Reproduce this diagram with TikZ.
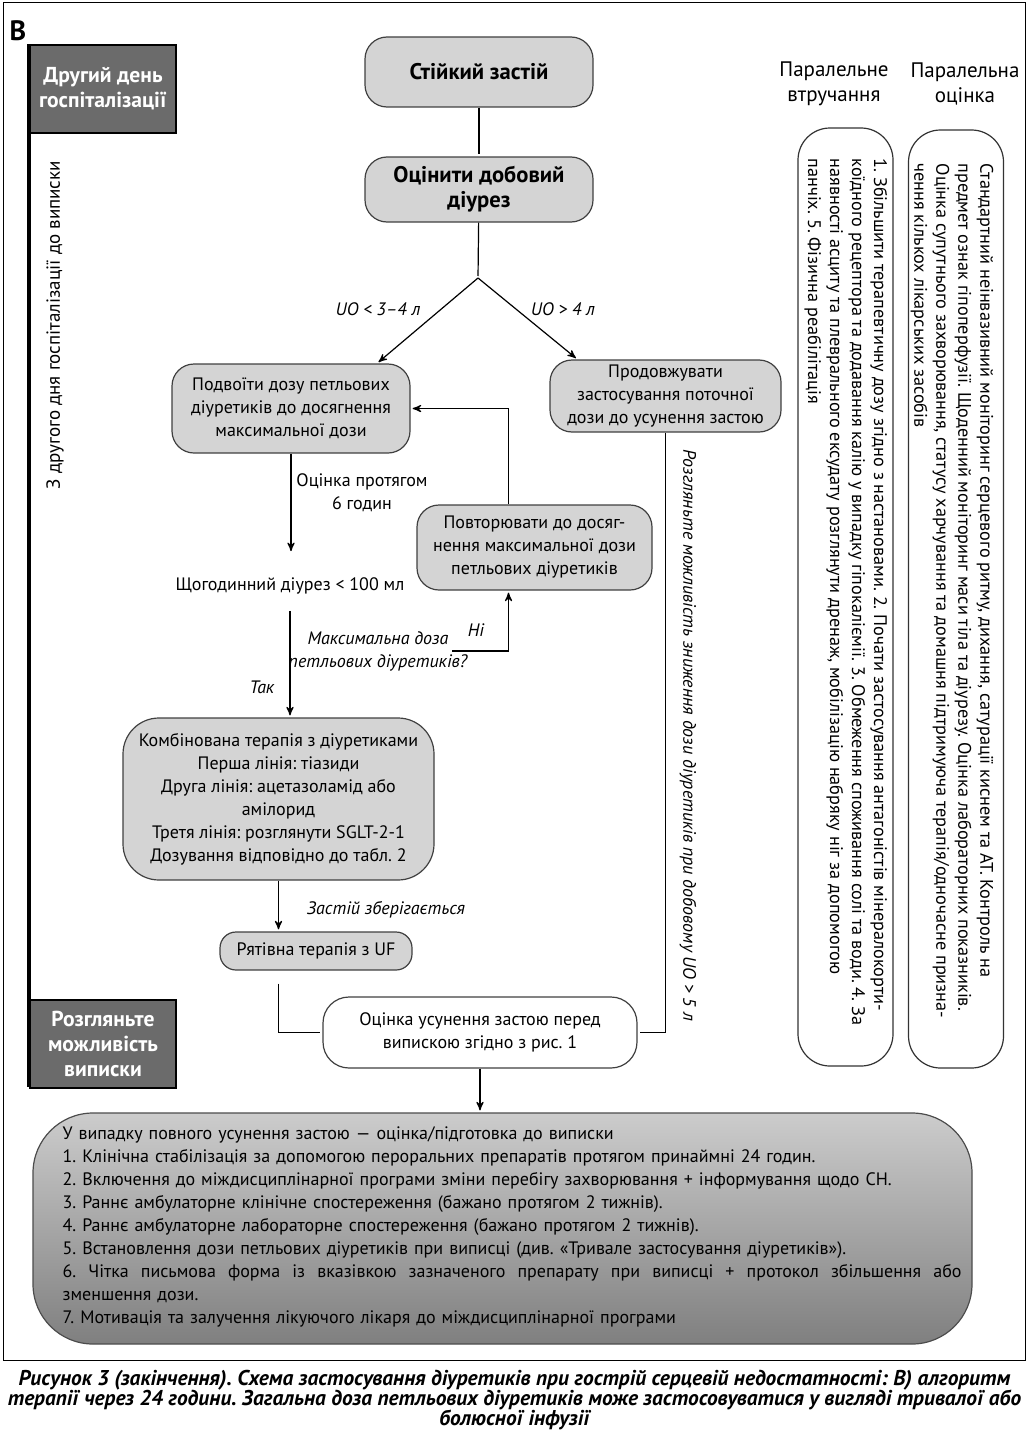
\documentclass[tikz,border=0pt]{standalone}
\usepackage{fontspec}
\setmainfont{PT Sans}
\usetikzlibrary{arrows}
\usetikzlibrary{positioning}
\frenchspacing

\begin{document}
\begin{tikzpicture}[x=0.5pt,y=-0.5pt,->,>=stealth',shorten >=1pt,line width=0.6pt,
    main box/.style={draw=black!75,fill=black!17,rounded corners=11pt,align=center,inner sep=0pt,font=\fontsize{9}{11.5}\selectfont},
    head box/.style={main box,font=\bfseries\fontsize{11.3}{12.5}\selectfont},
    side box/.style={draw=black,fill=black!58,text=white,align=center,inner sep=0pt,minimum width=73pt,minimum height=44pt,font=\bfseries\fontsize{10.8}{12.5}\selectfont},
    col box/.style={draw=black!80,rounded corners=16pt,minimum width=47.5pt,minimum height=469pt},
    col text/.style={rotate=-90,anchor=west,align=left,inner sep=0pt,font=\fontsize{9.1}{11}\selectfont},
    lbl/.style={align=center,inner sep=0pt,font=\itshape\fontsize{9}{11.5}\selectfont},
    plain/.style={align=center,inner sep=0pt,font=\fontsize{9}{11.5}\selectfont}]
  \useasboundingbox (0,0) rectangle (1029,1434);
  % frame and panel letter
  \draw[-,line width=0.5pt] (3,3) rectangle (1025,1360);
  \node[inner sep=0pt,font=\bfseries\fontsize{14}{14}\selectfont] (panel) at (18,31) {В};

  % time bar on the left
  \node[side box] (day2) at (103,89) {Другий день\\госпіталізації};
  \node[side box] (disch) at (103,1044) {Розгляньте\\можливість\\виписки};
  \draw[-,line width=2pt] (day2.north west) -- (disch.south west);
  \node[plain,rotate=90,font=\fontsize{9.5}{11}\selectfont] (span) at (55,325) {З другого дня госпіталізації до виписки};

  % main flow
  \node[head box,minimum width=114pt,minimum height=35pt] (stable) at (479,72) {Стійкий застій};
  \node[head box,minimum width=114pt,minimum height=32.5pt] (daily) at (479,189.5) {Оцінити добовий\\діурез};
  \coordinate (split) at (478,278);
  \node[main box,minimum width=119pt,minimum height=44.5pt] (double) at (291,408.5) {Подвоїти дозу петльових\\діуретиків до досягнення\\максимальної дози};
  \node[main box,minimum width=115.5pt,minimum height=36pt] (cont) at (665.5,396) {Продовжувати\\застосування поточної\\дози до усунення застою};
  \node[plain] (hourly) at (290,586) {Щогодинний діурез < 100 мл};
  \node[main box,minimum width=117.5pt,minimum height=42.5pt] (repeat) at (534.5,547.5) {Повторювати до досяг-\\нення максимальної дози\\петльових діуретиків};
  \node[main box,rounded corners=18pt,minimum width=155.5pt,minimum height=81pt] (comb) at (278.5,799) {Комбінована терапія з діуретиками\\Перша лінія: тіазиди\\Друга лінія: ацетазоламід або\\амілорид\\Третя лінія: розглянути SGLT-2-1\\Дозування відповідно до табл. 2};
  \node[main box,rounded corners=8pt,minimum width=96pt,minimum height=19pt] (rescue) at (316,951) {Рятівна терапія з UF};
  \node[main box,fill=white,rounded corners=13pt,minimum width=157pt,minimum height=35.5pt] (assess) at (480,1032.5) {Оцінка усунення застою перед\\випискою згідно з рис. 1};

  \draw[-] (stable) -- (daily);
  \draw[-] (daily) -- (split);
  \draw (split) -- ([xshift=43pt]double.north);
  \draw (split) -- ([xshift=-44pt]cont.north);
  \node[lbl] (lessUO) at (378,309) {UO < 3–4 л};
  \node[lbl] (moreUO) at (563,309) {UO > 4 л};

  \draw[shorten >=13pt] (double.south) -- (double.south |- hourly.north);
  \node[plain] (sixh) at (362,493) {Оцінка протягом\\6 годин};
  \draw[shorten <=8pt] (hourly.south) -- (hourly.south |- comb.north);
  \node[lbl] (maxq) at (378,651) {Максимальна доза\\петльових діуретиків?};
  \node[lbl] (yes) at (262,687) {Так};
  \coordinate (nojoin) at (452,651);
  \draw (nojoin) -| ([xshift=-13pt]repeat.south);
  \node[lbl] (no) at (476,630) {Ні};
  \draw ([xshift=-13pt]repeat.north) |- (double.east);

  \draw (comb.south) -- (comb.south |- rescue.north);
  \node[lbl] (persist) at (386,910) {Застій зберігається};
  \draw[-,shorten <=6.5pt] (comb.south |- rescue.south) |- (assess.west);
  \draw[-] (cont.south) |- (assess.east);
  \node[lbl,rotate=-90] (reduce) at (688,735) {Розгляньте можливість зниження дози діуретиків при добовому UO > 5 л};

  % discharge box
  \node[draw=black!70,top color=black!20,bottom color=black!50,rounded corners=30pt,minimum width=469.5pt,minimum height=115.5pt,inner sep=0pt] (final) at (502.5,1228.5) {};
  \draw (assess) -- (assess |- final.north);
  \node[anchor=north west,align=left,inner sep=0pt,text width=449.5pt,font=\fontsize{9}{11.5}\selectfont] (finaltext) at (62,1126) {У випадку повного усунення застою — оцінка/підготовка до виписки\\
    1. Клінічна стабілізація за допомогою пероральних препаратів протягом принаймні 24 годин.\\
    2. Включення до міждисциплінарної програми зміни перебігу захворювання + інформування щодо СН.\\
    3. Раннє амбулаторне клінічне спостереження (бажано протягом 2 тижнів).\\
    4. Раннє амбулаторне лабораторне спостереження (бажано протягом 2 тижнів).\\
    5. Встановлення дози петльових діуретиків при виписці (див. «Тривале застосування діуретиків»).\\
    \leavevmode\hbox to 449.5pt{6.\hfill Чітка\hfill письмова\hfill форма\hfill із\hfill вказівкою\hfill зазначеного\hfill препарату\hfill при\hfill виписці\hfill +\hfill протокол\hfill збільшення\hfill або}\\
    зменшення дози.\\
    7. Мотивація та залучення лікуючого лікаря до міждисциплінарної програми};

  % parallel columns
  \node[plain,font=\fontsize{10.5}{12.5}\selectfont] (parint) at (834,84) {Паралельне\\втручання};
  \node[plain,font=\fontsize{10.5}{12.5}\selectfont] (pareval) at (965,84) {Паралельна\\оцінка};
  \node[col box] (colint) at (845.5,597) {};
  \node[col box] (coleval) at (956,599) {};
  \node[col text] (inttext) at (846,158) {1. Збільшити терапевтичну дозу згідно з настановами. 2. Почати застосування антагоністів мінералокорти-\\
    коїдного рецептора та додавання калію у випадку гіпокаліємії. 3. Обмеження споживання солі та води. 4. За\\
    наявності асциту та плеврального ексудату розглянути дренаж, мобілізацію набряку ніг за допомогою\\
    панчіх. 5. Фізична реабілітація};
  \node[col text] (evaltext) at (952,163) {Стандартний неінвазивний моніторинг серцевого ритму, дихання, сатурації киснем та АТ. Контроль на\\
    предмет ознак гіпоперфузії. Щоденний моніторинг маси тіла та діурезу. Оцінка лабораторних показників.\\
    Оцінка супутнього захворювання, статусу харчування та домашня підтримуюча терапія/одночасне призна-\\
    чення кількох лікарських засобів};

  % caption
  \node[plain,font=\bfseries\itshape\fontsize{10.7}{10.2}\selectfont] (caption) at (514.5,1400) {Рисунок 3 (закінчення). Схема застосування діуретиків при гострій серцевій недостатності: В) алгоритм\\
    терапії через 24 години. Загальна доза петльових діуретиків може застосовуватися у вигляді тривалої або\\
    болюсної інфузії};
\end{tikzpicture}
\end{document}
